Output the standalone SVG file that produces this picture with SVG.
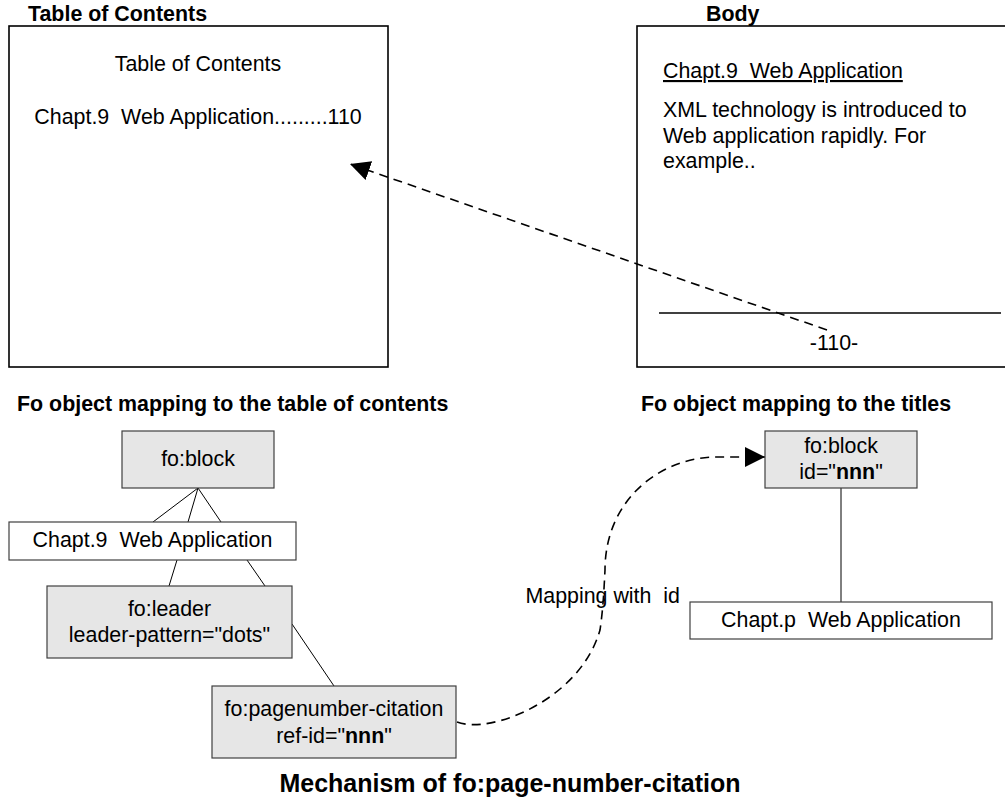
<svg xmlns="http://www.w3.org/2000/svg" width="1005" height="801" viewBox="0 0 1005 801">
<style>
text{font-family:"Liberation Sans",Arial,sans-serif;font-size:21.4px;fill:#000}
.h{font-weight:bold}
.c{text-anchor:middle}
.page{fill:#fff;stroke:#000;stroke-width:1.6}
.g{fill:#e6e6e6;stroke:#404040;stroke-width:1.2}
.w{fill:#fff;stroke:#404040;stroke-width:1.2}
.ln{stroke:#000;stroke-width:1;fill:none}
.dash{stroke:#000;stroke-width:1.6;fill:none;stroke-dasharray:9 6}
</style>
<defs>
<marker id="ah" markerUnits="userSpaceOnUse" markerWidth="24" markerHeight="24" refX="20" refY="10" orient="auto">
<path d="M0,0 L20,10 L0,20 Z" fill="#000"/>
</marker>
</defs>
<g id="toc-page">
<text class="h" x="28" y="21">Table of Contents</text>
<rect class="page" x="9" y="26" width="379" height="341"/>
<text class="c" x="198" y="71">Table of Contents</text>
<text class="c" x="198" y="124" xml:space="preserve">Chapt.9  Web Application.........110</text>
</g>
<g id="body-page">
<text class="h" x="706" y="21">Body</text>
<rect class="page" x="637" y="26" width="400" height="341"/>
<text x="663" y="78" text-decoration="underline" xml:space="preserve">Chapt.9  Web Application</text>
<text x="663" y="117">XML technology is introduced to</text>
<text x="663" y="143">Web application rapidly. For</text>
<text x="663" y="168">example..</text>
<line x1="659" y1="313" x2="1001" y2="313" stroke="#000" stroke-width="1.6"/>
<text class="c" x="834" y="350">-110-</text>
</g>
<text class="h" x="17" y="411">Fo object mapping to the table of contents</text>
<text class="h" x="641" y="411">Fo object mapping to the titles</text>
<g id="connectors">
<path class="dash" d="M827,330 L350,164" marker-end="url(#ah)"/>
<path class="ln" d="M198,488 L153,522 M198,488 L188,522 M198,488 L221,522 M177,560 L169,586 M247,560 L265,586 M292,624 L334,686 M841,488 L841,602"/>
<path class="dash" d="M457,722 C490,735 580,700 600,630 C603,610 604,590 605,570 C605,500 660,457 717,457 L765,457" marker-end="url(#ah)"/>
</g>
<g id="n-block">
<rect class="g" x="122" y="431" width="152" height="57"/>
<text class="c" x="198" y="466">fo:block</text>
</g>
<g id="n-chapt9">
<rect class="w" x="9" y="522" width="287" height="38"/>
<text class="c" x="152.5" y="547" xml:space="preserve">Chapt.9  Web Application</text>
</g>
<g id="n-leader">
<rect class="g" x="47" y="586" width="245" height="72"/>
<text class="c" x="169.5" y="616">fo:leader</text>
<text class="c" x="169.5" y="642">leader-pattern="dots"</text>
</g>
<g id="n-citation">
<rect class="g" x="212" y="686" width="244" height="72"/>
<text class="c" x="334" y="716">fo:pagenumber-citation</text>
<text class="c" x="334" y="743">ref-id="<tspan class="h">nnn</tspan>"</text>
</g>
<g id="n-block-id">
<rect class="g" x="765" y="431" width="152" height="57"/>
<text class="c" x="841" y="453">fo:block</text>
<text class="c" x="841" y="479">id="<tspan class="h">nnn</tspan>"</text>
</g>
<g id="n-chaptp">
<rect class="w" x="690" y="602" width="302" height="37"/>
<text class="c" x="841" y="627" xml:space="preserve">Chapt.p  Web Application</text>
</g>
<text x="680" y="603" text-anchor="end" xml:space="preserve">Mapping with  id</text>
<text class="h c" x="510" y="792" style="font-size:25px">Mechanism of fo:page-number-citation</text>
</svg>
